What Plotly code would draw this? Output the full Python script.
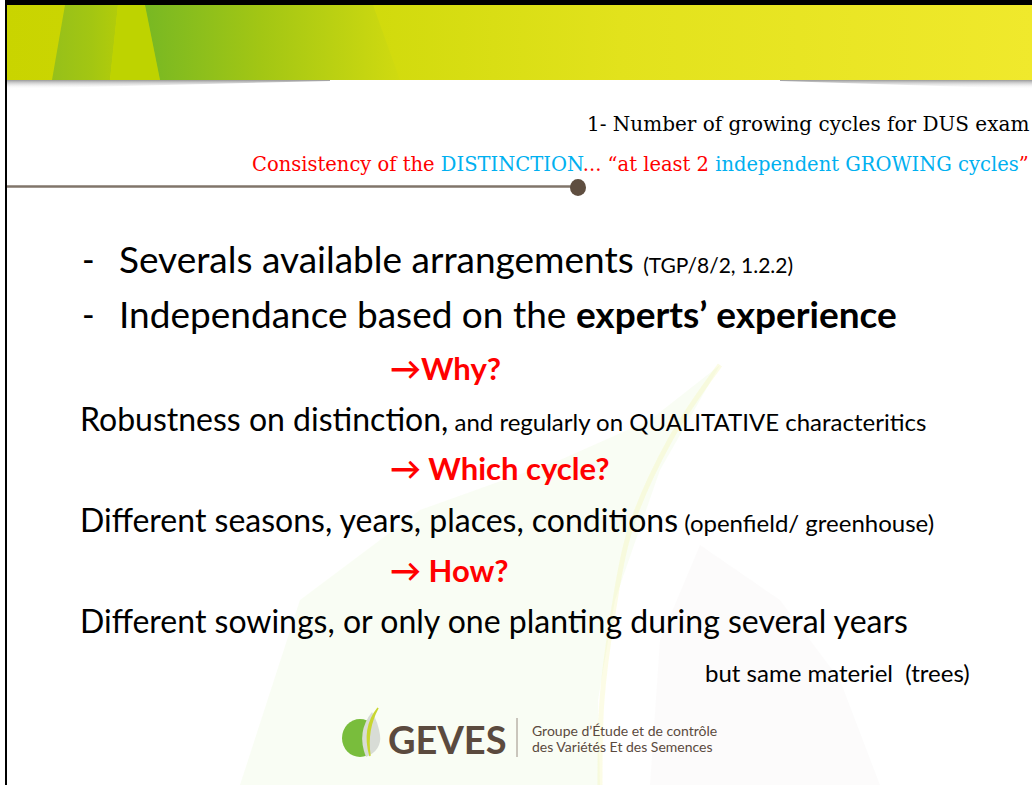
import plotly.graph_objects as go

W, H = 1032, 785

# ---- text content of the slide ----
title_line = "1- Number of growing cycles for DUS exam"
subtitle_parts = [("Consistency of the ", "#FF0000"), ("DISTINCTION", "#00B0F0"),
                  ("... “at least 2 ", "#FF0000"), ("independent GROWING cycles", "#00B0F0"),
                  ("”", "#FF0000")]
bullets = [("Severals available arrangements ", "(TGP/8/2, 1.2.2)", False),
           ("Independance based on the ", "experts’ experience", True)]
questions = ["→Why?", "→ Which cycle?", "→ How?"]
answers = [("Robustness on distinction,", " and regularly on QUALITATIVE characteritics"),
           ("Different seasons, years, places, conditions", " (openfield/ greenhouse)"),
           ("Different sowings, or only one planting during several years", "")]
note = "but same materiel  (trees)"
logo_word = "GEVES"
logo_lines = ["Groupe d’Étude et de contrôle", "des Variétés Et des Semences"]

BODY = "Lato"
SERIF = "DejaVu Serif"
BROWN = "#5b4a3e"

fig = go.Figure()

def poly(xs, ys, color=None, grad=None, opacity=1.0):
    kw = dict(x=xs, y=ys, mode="lines", fill="toself", line=dict(width=0),
              hoverinfo="skip", showlegend=False, opacity=opacity)
    if grad:
        kw["fillgradient"] = grad
        kw["fillcolor"] = None
    else:
        kw["fillcolor"] = color
    fig.add_trace(go.Scatter(**kw))

# ---- faint background leaves ----
poly([240, 300, 420, 560, 650, 720, 660, 615, 598, 600],
     [785, 600, 510, 460, 420, 365, 470, 600, 700, 785], color="rgba(210,240,170,0.13)")
poly([650, 660, 700, 780, 840, 880],
     [785, 640, 545, 600, 680, 785], color="rgba(215,210,200,0.08)")
fig.add_trace(go.Scatter(x=[720, 670, 630, 612, 602, 600], y=[365, 440, 530, 620, 700, 785],
                         mode="lines", line=dict(color="rgba(240,240,140,0.22)", width=5, shape="spline"),
                         hoverinfo="skip", showlegend=False))

# ---- header band ----
poly([5, 1032, 1032, 5], [5, 5, 80, 80],
     grad=dict(type="horizontal", colorscale=[[0, "#c9d400"], [0.35, "#d0da0c"], [0.6, "#e2e21c"], [1, "#f0e92c"]]))
poly([65, 118, 110, 52], [5, 5, 80, 80],
     grad=dict(type="horizontal", colorscale=[[0, "#96c01a"], [0.6, "#a3c612"], [1, "#b2cc0a"]]))
poly([118, 145, 160, 110], [5, 5, 80, 80], color="#bed300")
poly([145, 373, 400, 160], [5, 5, 80, 80],
     grad=dict(type="horizontal", colorscale=[[0, "#78b823"], [0.45, "#a2c614"], [1, "#d0da10"]]))
# shadow below band
poly([5, 330, 330, 5], [80, 80, 81, 89],
     grad=dict(type="vertical", colorscale=[[0, "rgba(255,255,255,0)"], [1, "rgba(120,120,120,0.75)"]]))
poly([780, 1032, 1032, 780], [80, 80, 89, 81],
     grad=dict(type="vertical", colorscale=[[0, "rgba(255,255,255,0)"], [1, "rgba(120,120,120,0.75)"]]))

shapes = []
# borders
shapes.append(dict(type="line", x0=5, x1=1032, y0=2.5, y1=2.5, line=dict(color="black", width=5)))
shapes.append(dict(type="line", x0=6, x1=6, y0=0, y1=785, line=dict(color="black", width=2)))
# separator line with dot
shapes.append(dict(type="line", x0=7, x1=578, y0=186.5, y1=186.5, line=dict(color="#80756a", width=2.5)))
shapes.append(dict(type="circle", x0=570, x1=586, y0=179, y1=196, fillcolor="#5f4e40", line=dict(width=0)))
# logo separator
shapes.append(dict(type="line", x0=517, x1=517, y0=718, y1=757, line=dict(color="#9a8e84", width=1)))
# logo mark
shapes.append(dict(type="circle", x0=342, x1=378, y0=719, y1=757, fillcolor="#79bd3c", line=dict(width=0)))
shapes.append(dict(type="path", path="M 372 712 Q 356 732 366 757 Q 382 750 380 735 Q 378 722 372 712 Z",
                   fillcolor="#d8dcd6", line=dict(width=0)))
shapes.append(dict(type="path", path="M 378 708 Q 362 728 370 756 Q 366 730 378 708 Z",
                   fillcolor="#c8d630", line=dict(color="#c8d630", width=1.5)))

ann = []
def text(x, y, s, size, color="black", family=BODY, xanchor="left"):
    ann.append(dict(x=x, y=y, text=s, showarrow=False, xanchor=xanchor, yanchor="middle",
                    font=dict(size=size, color=color, family=family)))

text(1031, 124, title_line, 20, family=SERIF, xanchor="right")
sub = "".join(f"<span style='color:{c}'>{t}</span>" for t, c in subtitle_parts)
text(1031, 164, sub, 19.5, family=SERIF, xanchor="right")

by = [258, 313]
for (main, extra, bold), y in zip(bullets, by):
    text(80, y, "-", 34)
    if bold:
        s = f"{main}<b>{extra}</b>"
    else:
        s = f"{main}<span style='font-size:21px'>{extra}</span>"
    text(117, y, s, 37)

qy = [368, 468, 570]
for q, y in zip(questions, qy):
    text(388, y, f"<b>{q}</b>", 31, color="#FF0000")

ay = [418, 519, 620]
for (main, extra), y in zip(answers, ay):
    s = main + (f"<span style='font-size:24px'>{extra}</span>" if extra else "")
    text(78, y, s, 32)

text(972, 672, note, 24, xanchor="right")

text(386, 739, f"<b>{logo_word}</b>", 38, color=BROWN)
text(530, 730, logo_lines[0], 14, color=BROWN)
text(530, 746, logo_lines[1], 14, color=BROWN)

fig.update_layout(width=W, height=H, margin=dict(l=0, r=0, t=0, b=0),
                  paper_bgcolor="white", plot_bgcolor="white",
                  xaxis=dict(range=[0, W], visible=False, fixedrange=True),
                  yaxis=dict(range=[H, 0], visible=False, fixedrange=True),
                  shapes=shapes, annotations=ann, showlegend=False)

fig.write_html("out.html", config={"displayModeBar": False},
               post_script="document.body.style.margin='0';document.body.style.overflow='hidden';")
